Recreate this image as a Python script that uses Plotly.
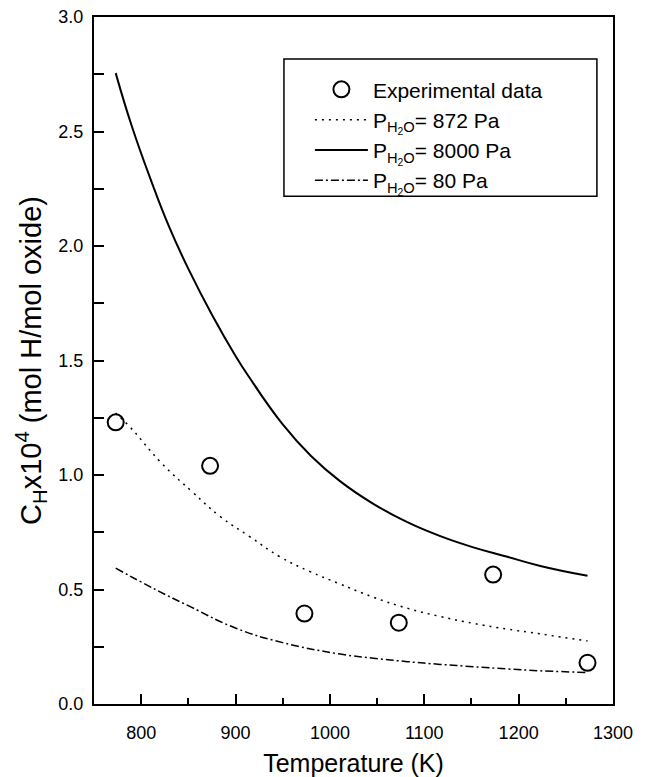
import plotly.graph_objects as go

# Experimental data
exp_T = [773, 873, 973, 1073, 1173, 1273]
exp_C = [1.23, 1.04, 0.395, 0.355, 0.565, 0.18]

# Model curves
T_8000 = [773, 790, 811, 830, 850, 875, 900, 914, 950, 980, 1011, 1046, 1082, 1117, 1152, 1188, 1223, 1273]
C_8000 = [2.755, 2.524, 2.28, 2.08, 1.90, 1.70, 1.52, 1.43, 1.221, 1.083, 0.972, 0.874, 0.794, 0.733, 0.684, 0.643, 0.603, 0.560]

T_872 = [773, 788, 822, 854, 884, 915, 947, 979, 1009, 1045, 1082, 1117, 1152, 1188, 1223, 1273]
C_872 = [1.27, 1.21, 1.05, 0.927, 0.818, 0.731, 0.643, 0.578, 0.527, 0.468, 0.418, 0.382, 0.352, 0.327, 0.306, 0.275]

T_80 = [773, 816, 852, 901, 950, 1011, 1046, 1082, 1117, 1152, 1188, 1223, 1271]
C_80 = [0.593, 0.498, 0.425, 0.330, 0.268, 0.218, 0.20, 0.185, 0.173, 0.163, 0.153, 0.145, 0.138]

x_ticks = [800, 900, 1000, 1100, 1200, 1300]
y_ticks = [0.0, 0.5, 1.0, 1.5, 2.0, 2.5, 3.0]

FONT = "Liberation Sans, Arial, sans-serif"

fig = go.Figure()
fig.add_trace(go.Scatter(
    x=exp_T, y=exp_C, mode="markers", name="Experimental data",
    marker=dict(symbol="circle-open", size=16, color="black", line=dict(width=2, color="black")),
))
fig.add_trace(go.Scatter(
    x=T_872, y=C_872, mode="lines", name="P<sub>H<sub>2</sub>O</sub>= 872 Pa",
    line=dict(color="black", width=1.5, dash="2px,5px", shape="spline", smoothing=1.3),
))
fig.add_trace(go.Scatter(
    x=T_8000, y=C_8000, mode="lines", name="P<sub>H<sub>2</sub>O</sub>= 8000 Pa",
    line=dict(color="black", width=2, shape="spline", smoothing=1.3),
))
fig.add_trace(go.Scatter(
    x=T_80, y=C_80, mode="lines", name="P<sub>H<sub>2</sub>O</sub>= 80 Pa",
    line=dict(color="black", width=1.5, dash="8px,3px,2px,3px", shape="spline", smoothing=1.3),
))

# legend frame
fig.add_shape(type="rect", xref="paper", yref="paper",
              x0=0.366, x1=0.969, y0=0.739, y1=0.939,
              line=dict(color="black", width=1.5), fillcolor="rgba(0,0,0,0)", layer="above")

fig.update_layout(
    width=641, height=769,
    margin=dict(l=86, r=36, t=9, b=73, autoexpand=False),
    paper_bgcolor="white", plot_bgcolor="white",
    font=dict(family=FONT, color="black", size=18),
    showlegend=True,
    legend=dict(
        x=0.416, y=0.924, xanchor="left", yanchor="top",
        borderwidth=0, bgcolor="rgba(0,0,0,0)",
        font=dict(size=21, family=FONT),
        itemwidth=53, tracegroupgap=0,
    ),
    xaxis=dict(
        range=[750, 1300], tickvals=x_ticks, ticktext=[str(v) for v in x_ticks],
        ticks="inside", ticklen=10, tickwidth=1.5, tickcolor="black",
        minor=dict(dtick=50, ticks="inside", ticklen=6, tickwidth=1.5, tickcolor="black"),
        showline=True, linecolor="black", linewidth=2, mirror=True,
        showgrid=False, zeroline=False, automargin=False,
        tickfont=dict(size=18), ticklabelstandoff=11, ticklabeloverflow="allow",
        title=dict(text="Temperature (K)", font=dict(size=25), standoff=18),
    ),
    yaxis=dict(
        range=[0, 3], tickvals=y_ticks, ticktext=[f"{v:.1f}" for v in y_ticks],
        ticks="inside", ticklen=10, tickwidth=1.5, tickcolor="black",
        minor=dict(dtick=0.25, ticks="inside", ticklen=10, tickwidth=1.5, tickcolor="black"),
        showline=True, linecolor="black", linewidth=2, mirror=True,
        showgrid=False, zeroline=False, automargin=False,
        tickfont=dict(size=18), ticklabelstandoff=5, ticklabeloverflow="allow",
        title=dict(text="C<sub>H</sub>x10<sup>4</sup> (mol H/mol oxide)", font=dict(size=29), standoff=8),
    ),
)

fig.write_html("out.html")
